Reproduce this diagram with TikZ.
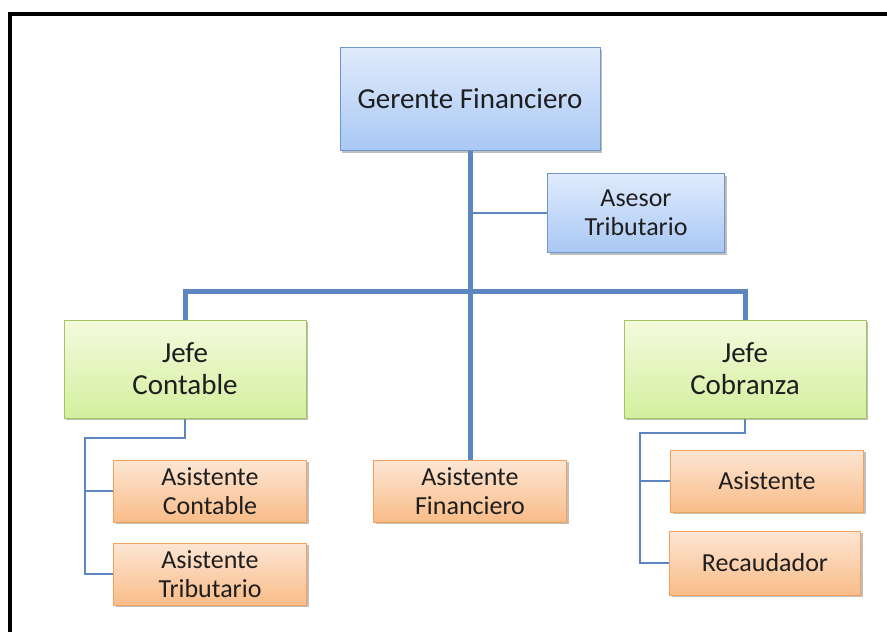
\documentclass[tikz,border=0pt]{standalone}
\usepackage{fontspec}
\setmainfont{Carlito}
\usetikzlibrary{shadows}

\definecolor{azulborde}{HTML}{6F96CC}
\definecolor{azularriba}{HTML}{E0EBFC}
\definecolor{azulabajo}{HTML}{A9C8F4}
\definecolor{verdeborde}{HTML}{A3C45E}
\definecolor{verdearriba}{HTML}{F4FBDD}
\definecolor{verdeabajo}{HTML}{D3EF9E}
\definecolor{naranjaborde}{HTML}{F5A15C}
\definecolor{naranjaarriba}{HTML}{FDE6D4}
\definecolor{naranjaabajo}{HTML}{F9BC88}
\definecolor{linea}{HTML}{5B86BF}
\definecolor{texto}{HTML}{1E1E1E}

\tikzset{
    caja/.style={draw, line width=1pt, align=center, text=texto, inner sep=0pt,
        drop shadow={shadow xshift=2pt, shadow yshift=-2pt, opacity=0.25, fill=black}},
    gerente/.style={caja, draw=azulborde, top color=azularriba, bottom color=azulabajo,
        minimum width=260pt, minimum height=103pt, font=\fontsize{29}{34}\selectfont},
    asesor/.style={caja, draw=azulborde, top color=azularriba, bottom color=azulabajo,
        minimum width=177pt, minimum height=79pt, font=\fontsize{26}{29}\selectfont},
    jefe/.style={caja, draw=verdeborde, top color=verdearriba, bottom color=verdeabajo,
        minimum width=242pt, minimum height=98pt, font=\fontsize{29}{32}\selectfont},
    asistente/.style={caja, draw=naranjaborde, top color=naranjaarriba, bottom color=naranjaabajo,
        minimum width=193pt, minimum height=62pt, font=\fontsize{26}{29}\selectfont},
    tronco/.style={draw=linea, line width=5pt},
    rama/.style={draw=linea, line width=1.6pt}
}

\begin{document}
\begin{tikzpicture}[x=1pt, y=-1pt]
    \useasboundingbox (0,0) rectangle (887,632);
    \draw[line width=4pt] (10,14.3) rectangle (900,650);
    % lineas
    \coordinate (barra) at (470,291);
    \coordinate (izq) at (85,438);
    \coordinate (der) at (640,433);
    % cajas
    \node[gerente] (gf) at (470,99) {Gerente Financiero};
    \node[asesor] (at) at (636,213) {Asesor\\Tributario};
    \node[jefe] (jc) at (185,369) {Jefe\\Contable};
    \node[jefe] (jcb) at (745,369) {Jefe\\Cobranza};
    \node[asistente] (af) at (470,491) {Asistente\\Financiero};
    \node[asistente] (ac) at (210,491) {Asistente\\Contable};
    \node[asistente] (atr) at (210,574) {Asistente\\Tributario};
    \node[asistente] (as) at (767,481) {Asistente};
    \node[asistente, minimum width=191pt, minimum height=64pt] (rec) at (765,563) {Recaudador};
    % conexiones
    \path[rama] (gf.south |- at.west) -- (at.west);
    \path[tronco] (gf.south) -- (af.north);
    \path[tronco] (jc.north) |- (barra) -| (jcb.north);
    \path[rama] (jc.south) |- (izq) |- (ac.west);
    \path[rama] (izq) |- (atr.west);
    \path[rama] (jcb.south) |- (der) |- (as.west);
    \path[rama] (der) |- (rec.west);
\end{tikzpicture}
\end{document}
